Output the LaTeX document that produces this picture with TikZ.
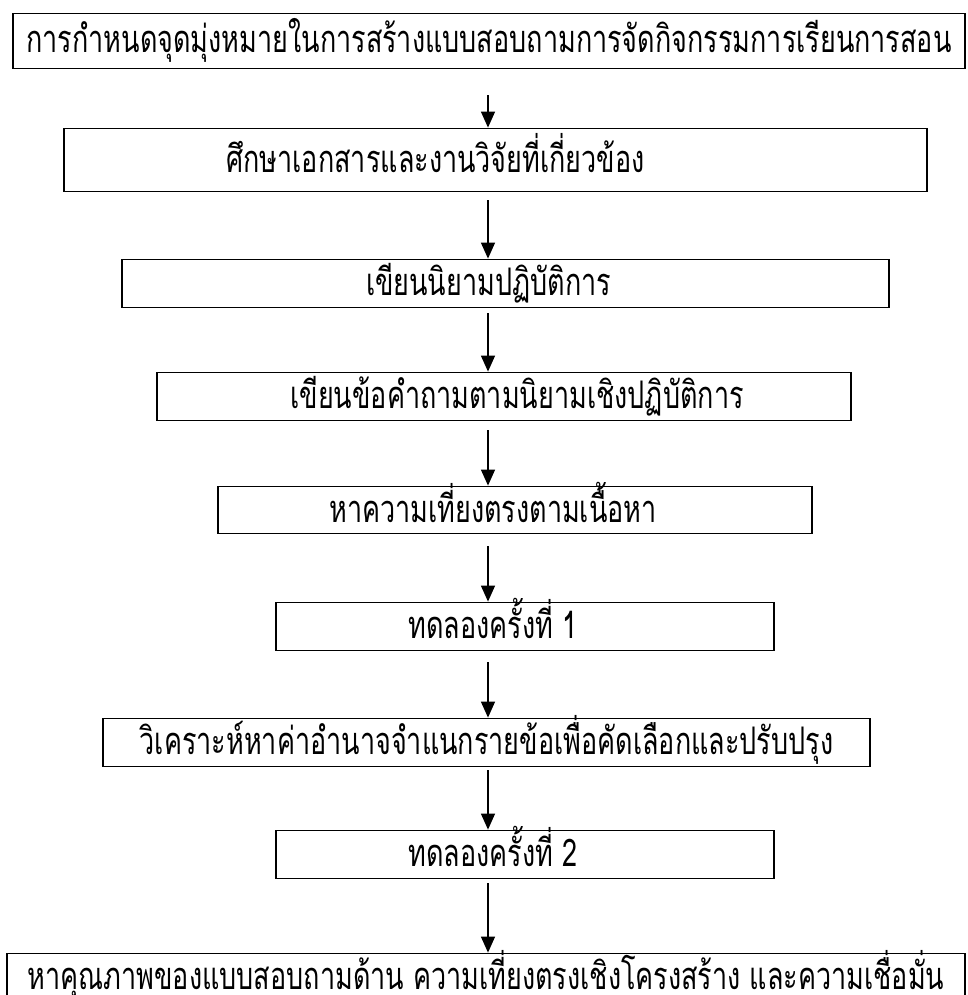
\documentclass[tikz,border=0pt]{standalone}
\usepackage{fontspec}
\newfontfamily\thaifont[Script=Thai, FakeStretch=0.71]{Loma}
\usetikzlibrary{arrows.meta, positioning}

% text that sits off the middle of its box
\newcommand{\offmid}[2]{\makebox[0pt]{\hspace*{#1}#2}}

\begin{document}
\begin{tikzpicture}[
            x = 1pt, y = -1pt,
            ->,
            > = {Triangle[length=16pt, width=14pt]},
            line width = 1.3pt,
            box/.style = {draw, -, line width=1.8pt, inner sep=0pt,
                          text height=27pt, text depth=3pt,
                          font=\thaifont\fontsize{38}{44}\selectfont}
        ]

        \clip (0,0) rectangle (967,995);

        \node[box, minimum width=952, minimum height=55] (goal) at (489,41)
            {การกำหนดจุดมุ่งหมายในการสร้างแบบสอบถามการจัดกิจกรรมการเรียนการสอน};
        \node[box, minimum width=863, minimum height=63] (study) at (495.5,160)
            {\offmid{-120pt}{ศึกษาเอกสารและงานวิจัยที่เกี่ยวข้อง}};
        \node[box, minimum width=767, minimum height=48] (define) at (505.5,283.5)
            {\offmid{-34pt}{เขียนนิยามปฏิบัติการ}};
        \node[box, minimum width=694, minimum height=48] (write) at (504,396.5)
            {\offmid{26pt}{เขียนข้อคำถามตามนิยามเชิงปฏิบัติการ}};
        \node[box, minimum width=594, minimum height=47] (valid) at (515,510)
            {\offmid{-44pt}{หาความเที่ยงตรงตามเนื้อหา}};
        \node[box, minimum width=498, minimum height=48] (try1) at (525,626.5)
            {\offmid{-64pt}{ทดลองครั้งที่ 1}};
        \node[box, minimum width=767, minimum height=48] (item) at (486.5,742.5)
            {วิเคราะห์หาค่าอำนาจจำแนกรายข้อเพื่อคัดเลือกและปรับปรุง};
        \node[box, minimum width=498, minimum height=48] (try2) at (525,854.5)
            {\offmid{-64pt}{ทดลองครั้งที่ 2}};
        \node[box, minimum width=958, minimum height=48] (quality) at (486,977.5)
            {หาคุณภาพของแบบสอบถามด้าน ความเที่ยงตรงเชิงโครงสร้าง และความเชื่อมั่น};

        \coordinate (ax) at (488,0);

        \path (goal.south -| ax)   edge[shorten <=26pt] (study.north -| ax)
              (study.south -| ax)  edge[shorten <=8pt]  (define.north -| ax)
              (define.south -| ax) edge[shorten <=5pt]  (write.north -| ax)
              (write.south -| ax)  edge[shorten <=9pt]  (valid.north -| ax)
              (valid.south -| ax)  edge[shorten <=12pt] (try1.north -| ax)
              (try1.south -| ax)   edge[shorten <=11pt] (item.north -| ax)
              (item.south -| ax)   edge[shorten <=3pt]  (try2.north -| ax)
              (try2.south -| ax)   edge[shorten <=4pt]  (quality.north -| ax);
    \end{tikzpicture}
\end{document}
